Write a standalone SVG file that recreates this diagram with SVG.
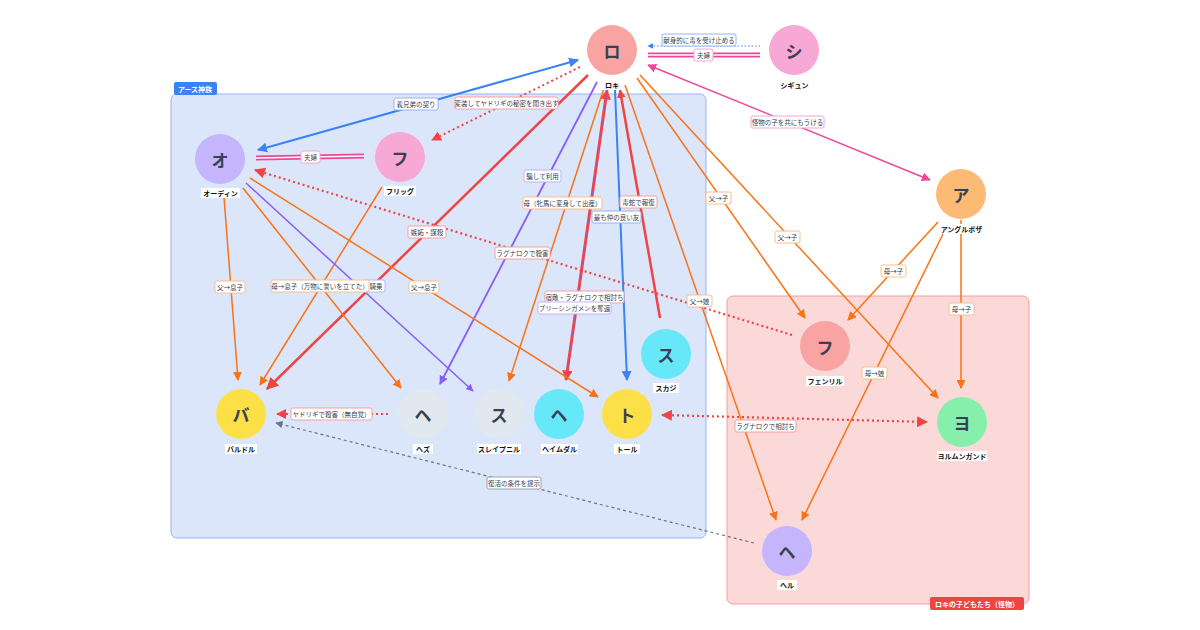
<svg xmlns="http://www.w3.org/2000/svg" width="1200" height="630" viewBox="0 0 1200 630">
<style>
text{font-family:"Noto Sans CJK JP","Noto Sans",sans-serif}
.n{font-size:17px;font-weight:bold;fill:#374151;text-anchor:middle;dominant-baseline:central}
.nl{font-size:7px;font-weight:bold;fill:#111;text-anchor:middle;dominant-baseline:central}
.nlb{fill:#fff}
.el{font-size:6.5px;fill:#374151;text-anchor:middle;dominant-baseline:central}
.o{stroke:#f97316;stroke-width:1.5;fill:none}
.lb{fill:#fff;stroke-width:1}
</style>
<defs>
<marker id="ao" viewBox="0 0 10 10" refX="9" refY="5" markerWidth="6" markerHeight="6" orient="auto-start-reverse"><path d="M0,0L10,5L0,10z" fill="#f97316"/></marker>
<marker id="ar" viewBox="0 0 10 10" refX="9" refY="5" markerWidth="5" markerHeight="5" orient="auto-start-reverse"><path d="M0,0L10,5L0,10z" fill="#ef4444"/></marker>
<marker id="ar2" viewBox="0 0 10 10" refX="9" refY="5" markerWidth="3.5" markerHeight="3.5" orient="auto-start-reverse"><path d="M0,0L10,5L0,10z" fill="#ef4444"/></marker>
<marker id="ab" viewBox="0 0 10 10" refX="9" refY="5" markerWidth="5" markerHeight="5" orient="auto-start-reverse"><path d="M0,0L10,5L0,10z" fill="#3b82f6"/></marker>
<marker id="ap" viewBox="0 0 10 10" refX="9" refY="5" markerWidth="5" markerHeight="5" orient="auto-start-reverse"><path d="M0,0L10,5L0,10z" fill="#8b5cf6"/></marker>
<marker id="ak" viewBox="0 0 10 10" refX="9" refY="5" markerWidth="6" markerHeight="6" orient="auto-start-reverse"><path d="M0,0L10,5L0,10z" fill="#ec4899"/></marker>
<marker id="ag" viewBox="0 0 10 10" refX="9" refY="5" markerWidth="6" markerHeight="6" orient="auto-start-reverse"><path d="M0,0L10,5L0,10z" fill="#6b7280"/></marker>
</defs>
<rect width="1200" height="630" fill="#fff"/>
<g id="groups">
<rect x="171" y="94" width="535" height="444" rx="6" fill="#dbe6fb" stroke="#93b4f5" stroke-width="1"/>
<rect x="174" y="82" width="43" height="13" rx="2" fill="#3b82f6"/>
<text x="195" y="88.5" style="font-size:7px;font-weight:bold;fill:#fff;text-anchor:middle;dominant-baseline:central">アース神族</text>
<rect x="727" y="296" width="302" height="308" rx="6" fill="#fbd9d9" stroke="#f59e9e" stroke-width="1"/>
<rect x="930" y="597" width="94" height="13" rx="2" fill="#ef4444"/>
<text x="977" y="603.5" style="font-size:7px;font-weight:bold;fill:#fff;text-anchor:middle;dominant-baseline:central">ロキの子どもたち（怪物）</text>
</g>
<g id="connectors">
<line x1="258" y1="150" x2="578" y2="60" stroke="#3b82f6" stroke-width="2" marker-start="url(#ab)" marker-end="url(#ab)"/>
<line x1="580" y1="67" x2="432" y2="140" stroke="#ef4444" stroke-width="2" stroke-dasharray="2 3" marker-end="url(#ar)"/>
<line x1="760" y1="46" x2="648" y2="46" stroke="#3b82f6" stroke-width="1.2" stroke-dasharray="1.5 2" marker-end="url(#ab)"/>
<line x1="648" y1="55" x2="760" y2="55" stroke="#ec4899" stroke-width="5"/><line x1="648" y1="55" x2="760" y2="55" stroke="#fff" stroke-width="1.5"/>
<line x1="256" y1="158" x2="364" y2="156" stroke="#ec4899" stroke-width="5"/><line x1="256" y1="158" x2="364" y2="156" stroke="#fff" stroke-width="1.5"/>
<line x1="648" y1="65" x2="930" y2="180" stroke="#ec4899" stroke-width="1.5" marker-start="url(#ak)" marker-end="url(#ak)"/>
<line x1="588" y1="75" x2="267" y2="389" stroke="#ef4444" stroke-width="2.5" marker-end="url(#ar)"/>
<line x1="597" y1="82" x2="440" y2="384" stroke="#8b5cf6" stroke-width="1.8" marker-end="url(#ap)"/>
<line x1="605" y1="85" x2="509" y2="381" class="o" marker-end="url(#ao)"/>
<line x1="607" y1="90" x2="566" y2="380" stroke="#ef4444" stroke-width="3" marker-start="url(#ar2)" marker-end="url(#ar2)"/>
<line x1="607" y1="90" x2="566" y2="380" stroke="#8b5cf6" stroke-width="1" stroke-dasharray="3 3"/>
<line x1="615" y1="90" x2="627" y2="380" stroke="#3b82f6" stroke-width="2" marker-end="url(#ab)"/>
<line x1="660" y1="318" x2="620" y2="90" stroke="#ef4444" stroke-width="2.5" marker-end="url(#ar2)"/>
<line x1="637" y1="78" x2="805" y2="318" class="o" marker-end="url(#ao)"/>
<line x1="640" y1="75" x2="938" y2="398" class="o" marker-end="url(#ao)"/>
<line x1="625" y1="85" x2="776" y2="520" class="o" marker-end="url(#ao)"/>
<line x1="938" y1="222" x2="848" y2="320" class="o" marker-end="url(#ao)"/>
<line x1="961" y1="220" x2="961" y2="388" class="o" marker-end="url(#ao)"/>
<line x1="943" y1="234" x2="802" y2="520" class="o" marker-end="url(#ao)"/>
<line x1="792" y1="335" x2="255" y2="170" stroke="#ef4444" stroke-width="2.2" stroke-dasharray="2 3" marker-end="url(#ar)"/>
<line x1="662" y1="415" x2="927" y2="422" stroke="#ef4444" stroke-width="2.2" stroke-dasharray="2 3" marker-start="url(#ar)" marker-end="url(#ar)"/>
<line x1="388" y1="414" x2="277" y2="414" stroke="#ef4444" stroke-width="2" stroke-dasharray="2 3" marker-end="url(#ar)"/>
<line x1="754" y1="543" x2="276" y2="423" stroke="#6b7280" stroke-width="1.2" stroke-dasharray="3 3" marker-end="url(#ag)"/>
<line x1="224" y1="197" x2="238" y2="380" class="o" marker-end="url(#ao)"/>
<line x1="382" y1="187" x2="260" y2="385" class="o" stroke-width="2" marker-end="url(#ao)"/>
<line x1="246" y1="183" x2="473" y2="391" stroke="#8b5cf6" stroke-width="1.5" marker-end="url(#ap)"/>
<line x1="243" y1="188" x2="401" y2="388" class="o" marker-end="url(#ao)"/>
<line x1="250" y1="178" x2="598" y2="397" class="o" marker-end="url(#ao)"/>
<g>
<rect x="394" y="98" width="44" height="12" rx="2" class="lb" stroke="#93b4f5"/><text x="416" y="104" class="el">義兄弟の契り</text>
<rect x="455" y="97" width="103" height="12" rx="2" class="lb" stroke="#f5a0a0"/><text x="506.5" y="103" class="el">変装してヤドリギの秘密を聞き出す</text>
<rect x="662" y="34" width="74" height="12" rx="2" class="lb" stroke="#93b4f5"/><text x="699" y="40" class="el">献身的に毒を受け止める</text>
<rect x="694" y="49" width="19" height="12" rx="2" class="lb" stroke="#f4a6cf"/><text x="703.5" y="55" class="el">夫婦</text>
<rect x="301" y="151" width="19" height="12" rx="2" class="lb" stroke="#f4a6cf"/><text x="310.5" y="157" class="el">夫婦</text>
<rect x="751" y="116" width="73" height="12" rx="2" class="lb" stroke="#f4a6cf"/><text x="787.5" y="122" class="el">怪物の子を共にもうける</text>
<rect x="524" y="170" width="37" height="12" rx="2" class="lb" stroke="#c4b0fb"/><text x="542.5" y="176" class="el">騙して利用</text>
<rect x="523" y="197" width="79" height="12" rx="2" class="lb" stroke="#fbbf8a"/><text x="562.5" y="203" class="el">母（牝馬に変身して出産）</text>
<rect x="620" y="196" width="37" height="12" rx="2" class="lb" stroke="#f5a0a0"/><text x="638.5" y="202" class="el">毒蛇で報復</text>
<rect x="592" y="211" width="49" height="12" rx="2" class="lb" stroke="#93b4f5"/><text x="616.5" y="217" class="el">最も仲の良い友</text>
<rect x="408" y="226" width="38" height="12" rx="2" class="lb" stroke="#f5a0a0"/><text x="427" y="232" class="el">嫉妬・謀殺</text>
<rect x="495" y="247" width="55" height="12" rx="2" class="lb" stroke="#f5a0a0"/><text x="522.5" y="253" class="el">ラグナロクで殺害</text>
<rect x="545" y="291" width="79" height="12" rx="2" class="lb" stroke="#f5a0a0"/><text x="584.5" y="297" class="el">宿敵・ラグナロクで相討ち</text>
<rect x="538" y="302" width="73" height="12" rx="2" class="lb" stroke="#c4b0fb"/><text x="574.5" y="308" class="el">ブリーシンガメンを奪還</text>
<rect x="706" y="192" width="25" height="12" rx="2" class="lb" stroke="#fbbf8a"/><text x="718.5" y="198" class="el">父→子</text>
<rect x="775" y="231" width="25" height="12" rx="2" class="lb" stroke="#fbbf8a"/><text x="787.5" y="237" class="el">父→子</text>
<rect x="687" y="295" width="25" height="12" rx="2" class="lb" stroke="#fbbf8a"/><text x="699.5" y="301" class="el">父→娘</text>
<rect x="881" y="265" width="25" height="12" rx="2" class="lb" stroke="#fbbf8a"/><text x="893.5" y="271" class="el">母→子</text>
<rect x="949" y="303" width="25" height="12" rx="2" class="lb" stroke="#fbbf8a"/><text x="961.5" y="309" class="el">母→子</text>
<rect x="862" y="367" width="25" height="12" rx="2" class="lb" stroke="#fbbf8a"/><text x="874.5" y="373" class="el">母→娘</text>
<rect x="735" y="420" width="61" height="12" rx="2" class="lb" stroke="#f5a0a0"/><text x="765.5" y="426" class="el">ラグナロクで相討ち</text>
<rect x="291" y="408" width="81" height="12" rx="2" class="lb" stroke="#f5a0a0"/><text x="331.5" y="414" class="el">ヤドリギで殺害（無自覚）</text>
<rect x="487" y="477" width="54" height="12" rx="2" class="lb" stroke="#9ca3af"/><text x="514" y="483" class="el">復活の条件を提示</text>
<rect x="215" y="281" width="30" height="12" rx="2" class="lb" stroke="#fbbf8a"/><text x="230" y="287" class="el">父→息子</text>
<rect x="364" y="280" width="21" height="12" rx="2" class="lb" stroke="#c4b0fb"/><text x="376" y="286" class="el">騎乗</text>
<rect x="271" y="280" width="98" height="12" rx="2" class="lb" stroke="#fbbf8a"/><text x="320" y="286" class="el">母→息子（万物に誓いを立てた）</text>
<rect x="409" y="281" width="30" height="12" rx="2" class="lb" stroke="#fbbf8a"/><text x="424" y="287" class="el">父→息子</text>
</g>
</g>
<g id="loki"><circle cx="612" cy="50" r="25" fill="#f9a3a3"/><text x="612" y="50" class="n">ロ</text><rect x="602" y="80" width="20" height="10" class="nlb"/><text x="612" y="85" class="nl">ロキ</text></g>
<g id="sigyn"><circle cx="794" cy="50" r="25" fill="#f7a8d4"/><text x="794" y="50" class="n">シ</text><rect x="779" y="80" width="31" height="10" class="nlb"/><text x="794.5" y="85" class="nl">シギュン</text></g>
<g id="odin"><circle cx="220" cy="159" r="25" fill="#c4b5fd"/><text x="220" y="159" class="n">オ</text><rect x="201" y="188" width="39" height="10" class="nlb"/><text x="220.5" y="193" class="nl">オーディン</text></g>
<g id="frigg"><circle cx="400" cy="157" r="25" fill="#f7a8d4"/><text x="400" y="157" class="n">フ</text><rect x="384" y="186" width="32" height="10" class="nlb"/><text x="400" y="191" class="nl">フリッグ</text></g>
<g id="angrboda"><circle cx="961" cy="194" r="25" fill="#fdba74"/><text x="961" y="194" class="n">ア</text><rect x="940" y="224" width="43" height="10" class="nlb"/><text x="961.5" y="229" class="nl">アングルボザ</text></g>
<g id="baldr"><circle cx="241" cy="414" r="25" fill="#fde047"/><text x="241" y="414" class="n">バ</text><rect x="225" y="444" width="32" height="10" class="nlb"/><text x="241" y="449" class="nl">バルドル</text></g>
<g id="hod"><circle cx="423" cy="414" r="25" fill="#e2e8f0"/><text x="423" y="414" class="n">ヘ</text><rect x="413" y="444" width="20" height="10" class="nlb"/><text x="423" y="449" class="nl">ヘズ</text></g>
<g id="sleipnir"><circle cx="499" cy="414" r="25" fill="#e2e8f0"/><text x="499" y="414" class="n">ス</text><rect x="477" y="444" width="44" height="10" class="nlb"/><text x="499" y="449" class="nl">スレイプニル</text></g>
<g id="heimdall"><circle cx="559" cy="414" r="25" fill="#67e8f9"/><text x="559" y="414" class="n">ヘ</text><rect x="541" y="444" width="37" height="10" class="nlb"/><text x="559.5" y="449" class="nl">ヘイムダル</text></g>
<g id="thor"><circle cx="627" cy="414" r="25" fill="#fde047"/><text x="627" y="414" class="n">ト</text><rect x="614" y="444" width="26" height="10" class="nlb"/><text x="627" y="449" class="nl">トール</text></g>
<g id="skadi"><circle cx="666" cy="354" r="25" fill="#67e8f9"/><text x="666" y="354" class="n">ス</text><rect x="653" y="383" width="26" height="10" class="nlb"/><text x="666" y="388" class="nl">スカジ</text></g>
<g id="fenrir"><circle cx="825" cy="346" r="25" fill="#f9a3a3"/><text x="825" y="346" class="n">フ</text><rect x="806" y="376" width="38" height="10" class="nlb"/><text x="825" y="381" class="nl">フェンリル</text></g>
<g id="jormungandr"><circle cx="962" cy="422" r="25" fill="#86efac"/><text x="962" y="422" class="n">ヨ</text><rect x="937" y="451" width="50" height="10" class="nlb"/><text x="962" y="456" class="nl">ヨルムンガンド</text></g>
<g id="hel"><circle cx="787" cy="551" r="25" fill="#c4b5fd"/><text x="787" y="551" class="n">ヘ</text><rect x="777" y="580" width="20" height="10" class="nlb"/><text x="787" y="585" class="nl">ヘル</text></g>
</svg>
